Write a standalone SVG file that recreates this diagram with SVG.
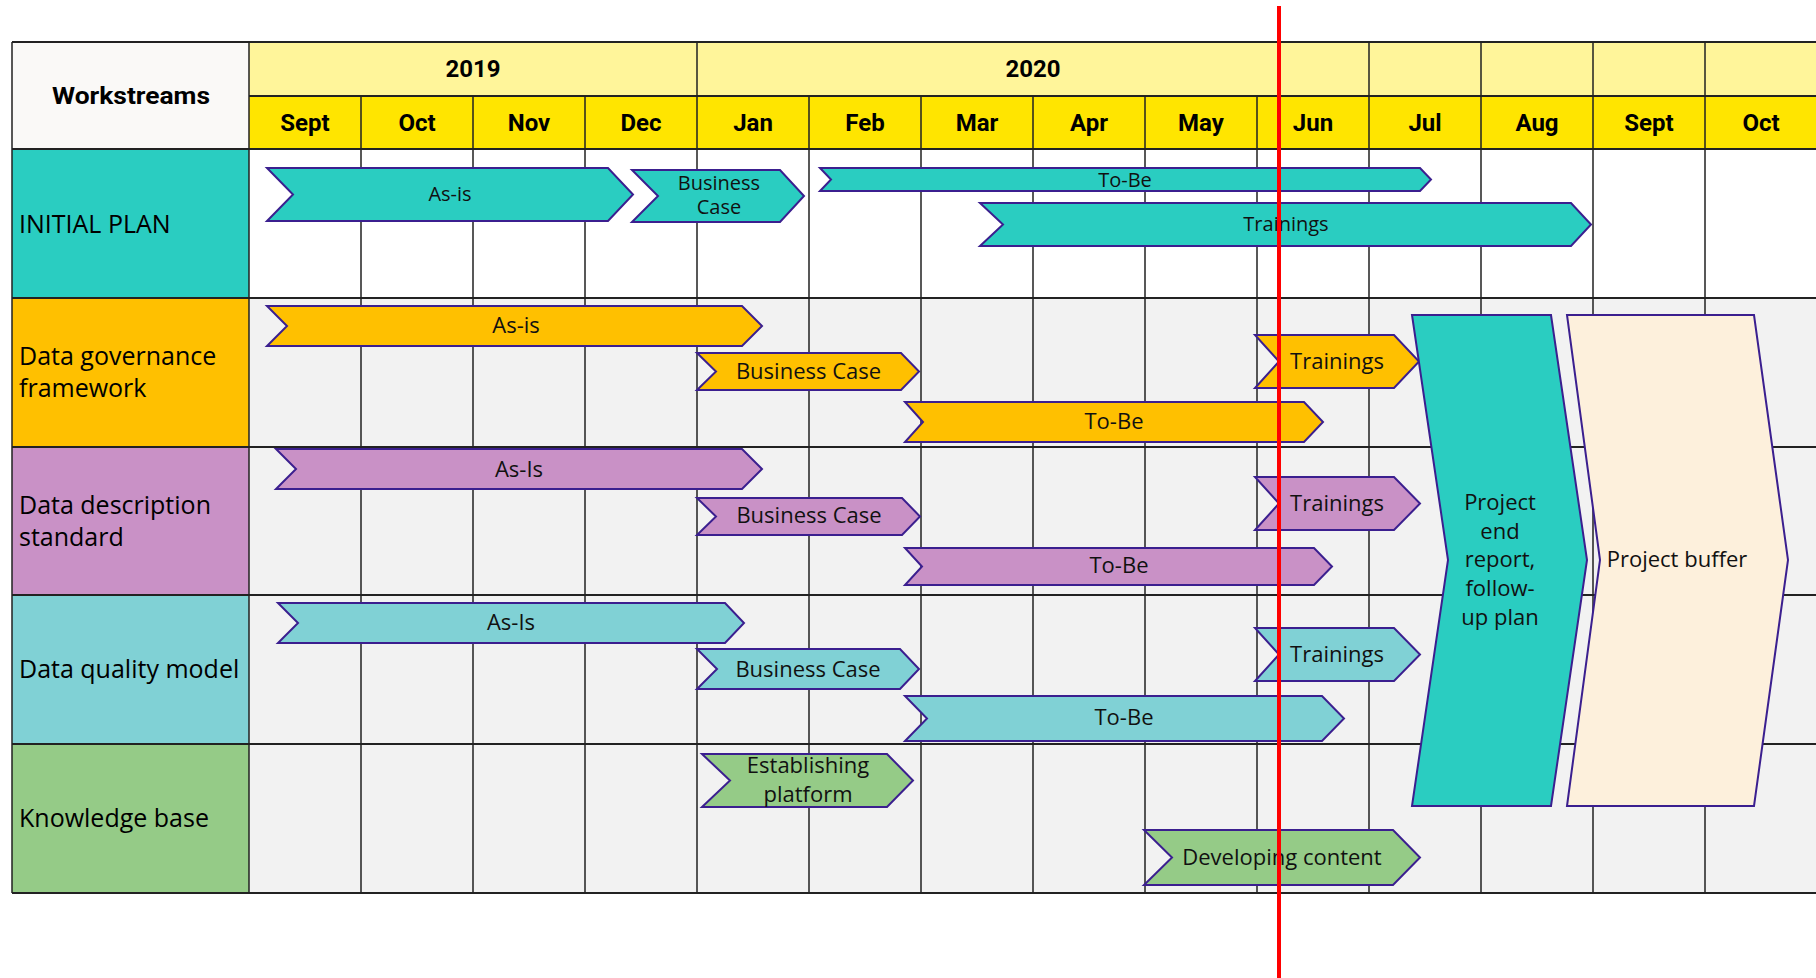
<svg xmlns="http://www.w3.org/2000/svg" width="1816" height="978" viewBox="0 0 1816 978">
<style>
.hdr{font-family:Roboto,"Liberation Sans",sans-serif;font-weight:bold;font-size:24px;fill:#000;text-anchor:middle}
.rl{font-family:"Open Sans","Noto Sans",sans-serif;font-size:25px;fill:#000}
.bl{font-family:"Open Sans","Noto Sans",sans-serif;font-size:22px;fill:#111;text-anchor:middle}
.bs{font-family:"Open Sans","Noto Sans",sans-serif;font-size:20px;fill:#111;text-anchor:middle}
.gl{stroke:#222;stroke-width:1.5;fill:none}
.gh{stroke:#222;stroke-width:2;fill:none}
.bar{stroke:#3B1F8F;stroke-width:2;stroke-linejoin:miter}
.teal{fill:#2ACDC1}.org{fill:#FFC000}.pur{fill:#C991C6}.lt{fill:#80D1D5}.grn{fill:#95CB87}.crm{fill:#FDF0DC}
</style>
<rect width="1816" height="978" fill="#FFFFFF"/>
<g id="grid">
<rect x="12" y="42" width="237" height="107" fill="#FAF9F7"/>
<rect x="249" y="42" width="1567" height="54" fill="#FFF59A"/>
<rect x="249" y="96" width="1567" height="53" fill="#FFE500"/>
<rect x="249" y="149" width="1567" height="149" fill="#FFFFFF"/>
<rect x="249" y="298" width="1567" height="595" fill="#F2F2F2"/>
<rect x="12" y="149" width="237" height="149" fill="#2ACDC1"/>
<rect x="12" y="298" width="237" height="149" fill="#FFC000"/>
<rect x="12" y="447" width="237" height="148" fill="#C991C6"/>
<rect x="12" y="595" width="237" height="149" fill="#80D1D5"/>
<rect x="12" y="744" width="237" height="149" fill="#95CB87"/>
<path class="gh" d="M12 42H1816M249 96H1816M12 149H1816M12 298H1816M12 447H1816M12 595H1816M12 744H1816M12 893H1816"/>
<path class="gl" d="M12 42V893M249 42V893M361 96V893M473 96V893M585 96V893M697 42V893M809 96V893M921 96V893M1033 96V893M1145 96V893M1257 96V893M1369 42V893M1481 42V893M1593 42V893M1705 42V893"/>
<text class="hdr" x="131" y="104" font-size="26" textLength="158" lengthAdjust="spacingAndGlyphs">Workstreams</text>
<text class="hdr" x="473" y="77" font-size="25">2019</text>
<text class="hdr" x="1033" y="77" font-size="25">2020</text>
<text class="hdr" x="305" y="131">Sept</text>
<text class="hdr" x="417" y="131">Oct</text>
<text class="hdr" x="529" y="131">Nov</text>
<text class="hdr" x="641" y="131">Dec</text>
<text class="hdr" x="753" y="131">Jan</text>
<text class="hdr" x="865" y="131">Feb</text>
<text class="hdr" x="977" y="131">Mar</text>
<text class="hdr" x="1089" y="131">Apr</text>
<text class="hdr" x="1201" y="131">May</text>
<text class="hdr" x="1313" y="131">Jun</text>
<text class="hdr" x="1425" y="131">Jul</text>
<text class="hdr" x="1537" y="131">Aug</text>
<text class="hdr" x="1649" y="131">Sept</text>
<text class="hdr" x="1761" y="131">Oct</text>
</g>
<g id="row-labels">
<text class="rl" x="19" y="233">INITIAL PLAN</text>
<text class="rl" x="19" y="365">Data governance</text>
<text class="rl" x="19" y="397">framework</text>
<text class="rl" x="19" y="514">Data description</text>
<text class="rl" x="19" y="546">standard</text>
<text class="rl" x="19" y="678">Data quality model</text>
<text class="rl" x="19" y="827">Knowledge base</text>
</g>
<g id="ip-asis"><polygon class="bar teal" points="267,168 608,168 633,194.5 608,221 267,221 293,194.5"/><text class="bs" x="450" y="201">As-is</text></g>
<g id="ip-bc"><polygon class="bar teal" points="632,170 780,170 804,196 780,222 632,222 658,196"/><text class="bs" x="719" y="190">Business</text><text class="bs" x="719" y="214">Case</text></g>
<g id="ip-tobe"><polygon class="bar teal" points="820,168 1420,168 1431,179.5 1420,191 820,191 831,179.5"/><text class="bs" x="1125" y="187">To-Be</text></g>
<g id="ip-train"><polygon class="bar teal" points="980,203 1571,203 1591,224.5 1571,246 980,246 1003,224.5"/><text class="bs" x="1286" y="231">Trainings</text></g>

<g id="dg-asis"><polygon class="bar org" points="267,306 742,306 762,326 742,346 267,346 287,326"/><text class="bl" x="516" y="333">As-is</text></g>
<g id="dg-bc"><polygon class="bar org" points="697,353 901,353 919,371.5 901,390 697,390 716,371.5"/><text class="bl" x="808.5" y="379">Business Case</text></g>
<g id="dg-tobe"><polygon class="bar org" points="905,402 1304,402 1323,422 1304,442 905,442 923,422"/><text class="bl" x="1114" y="429">To-Be</text></g>
<g id="dg-train"><polygon class="bar org" points="1255,335 1394,335 1419,361.5 1394,388 1255,388 1279,361.5"/><text class="bl" x="1337" y="369">Trainings</text></g>

<g id="dd-asis"><polygon class="bar pur" points="276,449 742,449 762,469 742,489 276,489 296,469"/><text class="bl" x="519" y="477">As-Is</text></g>
<g id="dd-bc"><polygon class="bar pur" points="697,498 902,498 920,516.5 902,535 697,535 716,516.5"/><text class="bl" x="809" y="523">Business Case</text></g>
<g id="dd-tobe"><polygon class="bar pur" points="905,548 1314,548 1332,566.5 1314,585 905,585 922,566.5"/><text class="bl" x="1119" y="573">To-Be</text></g>
<g id="dd-train"><polygon class="bar pur" points="1255,477 1394,477 1420,503.5 1394,530 1255,530 1279,503.5"/><text class="bl" x="1337" y="511">Trainings</text></g>

<g id="dq-asis"><polygon class="bar lt" points="278,603 725,603 744,623 725,643 278,643 298,623"/><text class="bl" x="511" y="630">As-Is</text></g>
<g id="dq-bc"><polygon class="bar lt" points="697,649 900,649 919,669 900,689 697,689 717,669"/><text class="bl" x="808" y="677">Business Case</text></g>
<g id="dq-tobe"><polygon class="bar lt" points="905,696 1322,696 1344,718.5 1322,741 905,741 927,718.5"/><text class="bl" x="1124" y="725">To-Be</text></g>
<g id="dq-train"><polygon class="bar lt" points="1255,628 1394,628 1420,654.5 1394,681 1255,681 1279,654.5"/><text class="bl" x="1337" y="662">Trainings</text></g>

<g id="kb-platform"><polygon class="bar grn" points="702,754 887,754 913,780.5 887,807 702,807 730,780.5"/><text class="bl" x="808" y="773">Establishing</text><text class="bl" x="808" y="802">platform</text></g>
<g id="kb-content"><polygon class="bar grn" points="1144,830 1393,830 1420,857.5 1393,885 1144,885 1172,857.5"/><text class="bl" x="1282" y="865">Developing content</text></g>

<g id="project-end"><polygon class="bar teal" points="1412,315 1551,315 1587,560 1551,806 1412,806 1448,560"/>
<text class="bl" x="1500" y="510">Project</text><text class="bl" x="1500" y="539">end</text><text class="bl" x="1500" y="567">report,</text><text class="bl" x="1500" y="596">follow-</text><text class="bl" x="1500" y="625">up plan</text></g>
<g id="project-buffer"><polygon class="bar crm" points="1567,315 1754,315 1788,560 1754,806 1567,806 1600,560"/><text class="bl" x="1677" y="567">Project buffer</text></g>

<g id="today-line"><line x1="1279" y1="6" x2="1279" y2="978" stroke="#FF0000" stroke-width="4"/></g>
</svg>
